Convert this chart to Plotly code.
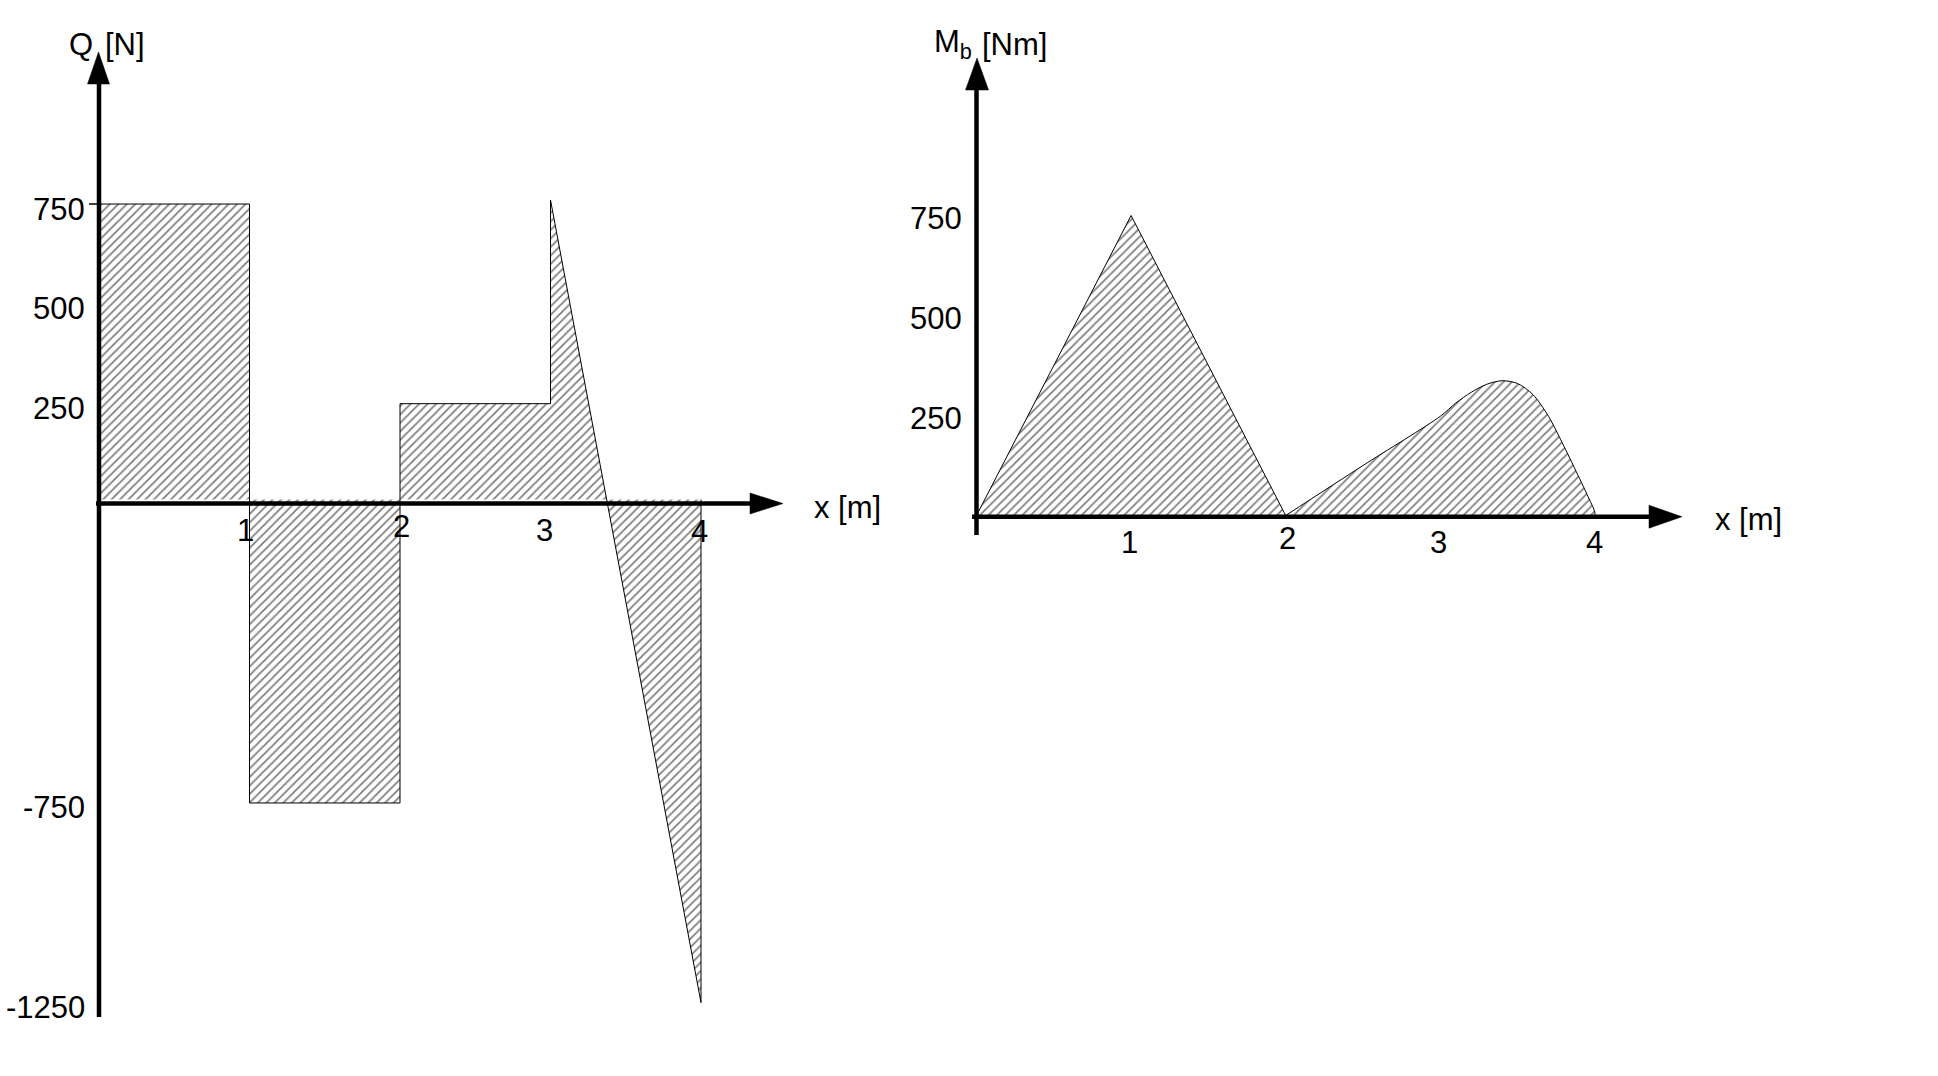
import plotly.graph_objects as go

W, H = 1938, 1076

# ---------------- data ----------------
# Shear force Q [N]  (polygon outline of the diagram, closed on a base line)
q_x = [0, 0, 1, 1, 2, 2, 3, 3, 4, 4]
q_v = [10, 750, 750, -750, -750, 250, 250, 760, -1250, 10]
q_yticks = [750, 500, 250, -750, -1250]
q_xticks = [1, 2, 3, 4]

# Bending moment Mb [Nm]: linear part (0..2) and curved part (2..4)
m_tri_x = [0, 1, 2]
m_tri_v = [0, 750, 0]
m_hump_x = [2, 2.5, 3.0, 3.1, 3.2, 3.3, 3.4, 3.5, 3.6, 3.7, 3.8, 3.9, 3.95, 4.0, 4.0]
m_hump_v = [0, 125, 248, 281, 308, 328, 337, 330, 302, 248, 173, 93, 52, 8, 0]
m_yticks = [750, 500, 250]
m_xticks = [1, 2, 3, 4]

# ---------------- geometry (pixels) ----------------
L_OX, L_OY, L_SX, L_SY = 99.0, 503.5, 150.5, 0.3993
R_OX, R_OY, R_SX, R_SY = 976.5, 515.5, 154.6, 0.400
SPLIT = 969.0

FONT = "Liberation Sans, Arial, Helvetica, sans-serif"
FS = 31

def px(x):
    return x / W

def py(y):
    return 1 - y / H

hatch = dict(shape="/", size=6, solidity=0.3, fgcolor="black", bgcolor="white")

fig = go.Figure()
fig.add_trace(go.Scatter(
    x=q_x, y=q_v, mode="lines", fill="toself", fillpattern=hatch,
    line=dict(color="black", width=1), xaxis="x", yaxis="y",
    hoverinfo="skip", showlegend=False))
fig.add_trace(go.Scatter(
    x=m_tri_x, y=m_tri_v, mode="lines", fill="toself", fillpattern=hatch,
    line=dict(color="black", width=1), xaxis="x2", yaxis="y2",
    hoverinfo="skip", showlegend=False))
fig.add_trace(go.Scatter(
    x=m_hump_x, y=m_hump_v, mode="lines", fill="toself", fillpattern=hatch,
    line=dict(color="black", width=1, shape="spline", smoothing=0.8),
    xaxis="x2", yaxis="y2", hoverinfo="skip", showlegend=False))

ax = dict(visible=False, showgrid=False, zeroline=False, fixedrange=True)
fig.update_layout(
    width=W, height=H,
    margin=dict(l=0, r=0, t=0, b=0, pad=0),
    paper_bgcolor="white", plot_bgcolor="white",
    xaxis=dict(domain=[0, SPLIT / W], range=[-L_OX / L_SX, (SPLIT - L_OX) / L_SX], **ax),
    yaxis=dict(domain=[0, 1], range=[(L_OY - H) / L_SY, L_OY / L_SY], **ax),
    xaxis2=dict(domain=[SPLIT / W, 1], range=[(SPLIT - R_OX) / R_SX, (W - R_OX) / R_SX], anchor="y2", **ax),
    yaxis2=dict(domain=[0, 1], range=[(R_OY - H) / R_SY, R_OY / R_SY], anchor="x2", **ax),
    font=dict(family=FONT, size=FS, color="black"),
)

shapes = []
def line(x0, y0, x1, y1, w=4.5):
    shapes.append(dict(type="line", xref="paper", yref="paper",
                       x0=px(x0), y0=py(y0), x1=px(x1), y1=py(y1),
                       line=dict(color="black", width=w)))

def tri(pts):
    d = "M " + " L ".join(f"{px(a)},{py(b)}" for a, b in pts) + " Z"
    shapes.append(dict(type="path", xref="paper", yref="paper", path=d,
                       fillcolor="black", line=dict(color="black", width=0.5)))

# left axes
line(L_OX, 80, L_OX, 1017)
line(96, L_OY, 752, L_OY)
tri([(98.5, 52), (87.5, 84), (109.5, 84)])
tri([(783, L_OY), (750, L_OY - 10.5), (750, L_OY + 10.5)])
line(89, 204, L_OX, 204, w=1.5)
# right axes
line(R_OX, 88, R_OX, 535)
line(972, 516.7, 1651, 516.7)
tri([(977, 58), (965.5, 90), (988.5, 90)])
tri([(1682, 516.7), (1649, 505.2), (1649, 528.2)])
fig.update_layout(shapes=shapes)

ann = []
def text(t, x, y, xanchor="center", xref="paper", yref="paper", xs=0, ys=0):
    ann.append(dict(text=t, x=x, y=y, xref=xref, yref=yref, xanchor=xanchor,
                    yanchor="middle", showarrow=False, xshift=xs, yshift=ys,
                    font=dict(family=FONT, size=FS, color="black")))

# tick labels (placed at their data values)
for v in q_yticks:
    text(str(v), 0, v, xanchor="right", xref="x", yref="y", xs=-12, ys=-5)
q_dx = [-4, 1, -6, -2]
q_dy = [-26.5, -23, -26.5, -27.5]
for k, dx, dy in zip(q_xticks, q_dx, q_dy):
    text(str(k), k, 0, xref="x", yref="y", xs=dx, ys=dy)
for v in m_yticks:
    text(str(v), 0, v, xanchor="right", xref="x2", yref="y2", xs=-13, ys=-3)
m_dx = [-2, 2, -2, 0]
m_dy = [-26.5, -22.5, -26.5, -26.5]
for k, dx, dy in zip(m_xticks, m_dx, m_dy):
    text(str(k), k, 0, xref="x2", yref="y2", xs=dx, ys=dy)

# axis titles
text("Q", px(95), py(44), xanchor="right")
text("[N]", px(103), py(45), xanchor="left")
text("M<sub>b</sub>", px(974), py(44), xanchor="right")
text("[Nm]", px(980), py(45), xanchor="left")
text("x [m]", px(847.5), py(507))
text("x [m]", px(1748), py(519))
fig.update_layout(annotations=ann)

fig.write_html("out.html", config={"displayModeBar": False, "staticPlot": True},
               post_script="document.body.style.margin='0';")
